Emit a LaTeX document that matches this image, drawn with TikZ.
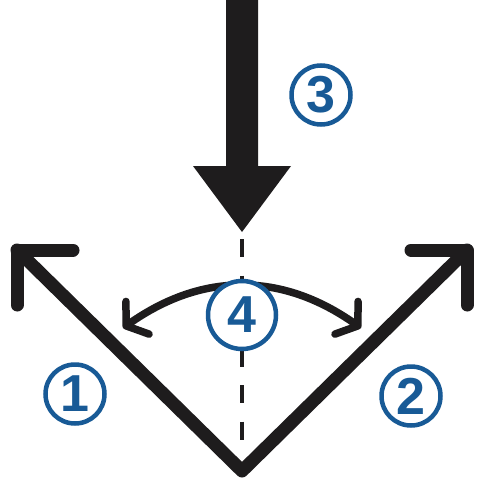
\documentclass[tikz,border=0pt]{standalone}
\usepackage{fontspec}
\setmainfont{Liberation Sans}
\usetikzlibrary{arrows.meta}
\definecolor{ink}{RGB}{30,28,29}
\definecolor{navy}{RGB}{24,90,150}
\begin{document}
\begin{tikzpicture}[x=1pt,y=-1pt,
  arm/.style={draw=ink,line width=13pt,line cap=round,line join=round},
  num/.style={circle,draw=navy,line width=4.5pt,text=navy,fill=white,
    font=\bfseries\fontsize{52}{52}\selectfont,minimum size=59pt,inner sep=0pt},
  barb/.tip={Straight Barb[length=14pt,width=40pt,round]}]
\useasboundingbox[fill=white] (0,0) rectangle (484,484);
% key points
\coordinate (V) at (242,471);
\coordinate (LC) at (17,250);
\coordinate (LH) at (73,250);
\coordinate (LV) at (17,305);
\coordinate (RC) at (467,250);
\coordinate (RH) at (411,250);
\coordinate (RV) at (467,305);
% V-shaped arms with corner arrowheads
\draw[arm] (LH) -- (LC) -- (LV);
\draw[arm] (LC) -- (V) -- (RC);
\draw[arm] (RH) -- (RC) -- (RV);
% downward force arrow
\coordinate (tip) at (242,232);
\fill[ink] (226,-2) -- (258,-2) -- (258,166) -- (291,166) -- (tip) -- (193,166) -- (226,166) -- cycle;
% dashed centre line
\coordinate (d1) at (242,239);
\coordinate (d2) at (242,440);
\draw[ink,line width=4pt,dash pattern=on 18pt off 18.5pt] (d1) -- (d2);
% angle arc
\coordinate (a1) at (123,328);
\coordinate (a2) at (361,328);
\draw[ink,line width=7.5pt,barb-barb] (a1) .. controls (202.3,272) and (281.7,272) .. (a2);
% numbered markers
\node[num] (n1) at (75,394) {1};
\node[num] (n2) at (411,396) {2};
\node[num] (n3) at (321,95) {3};
\node[num,minimum size=68pt] (n4) at (242,315) {4};
\end{tikzpicture}
\end{document}
